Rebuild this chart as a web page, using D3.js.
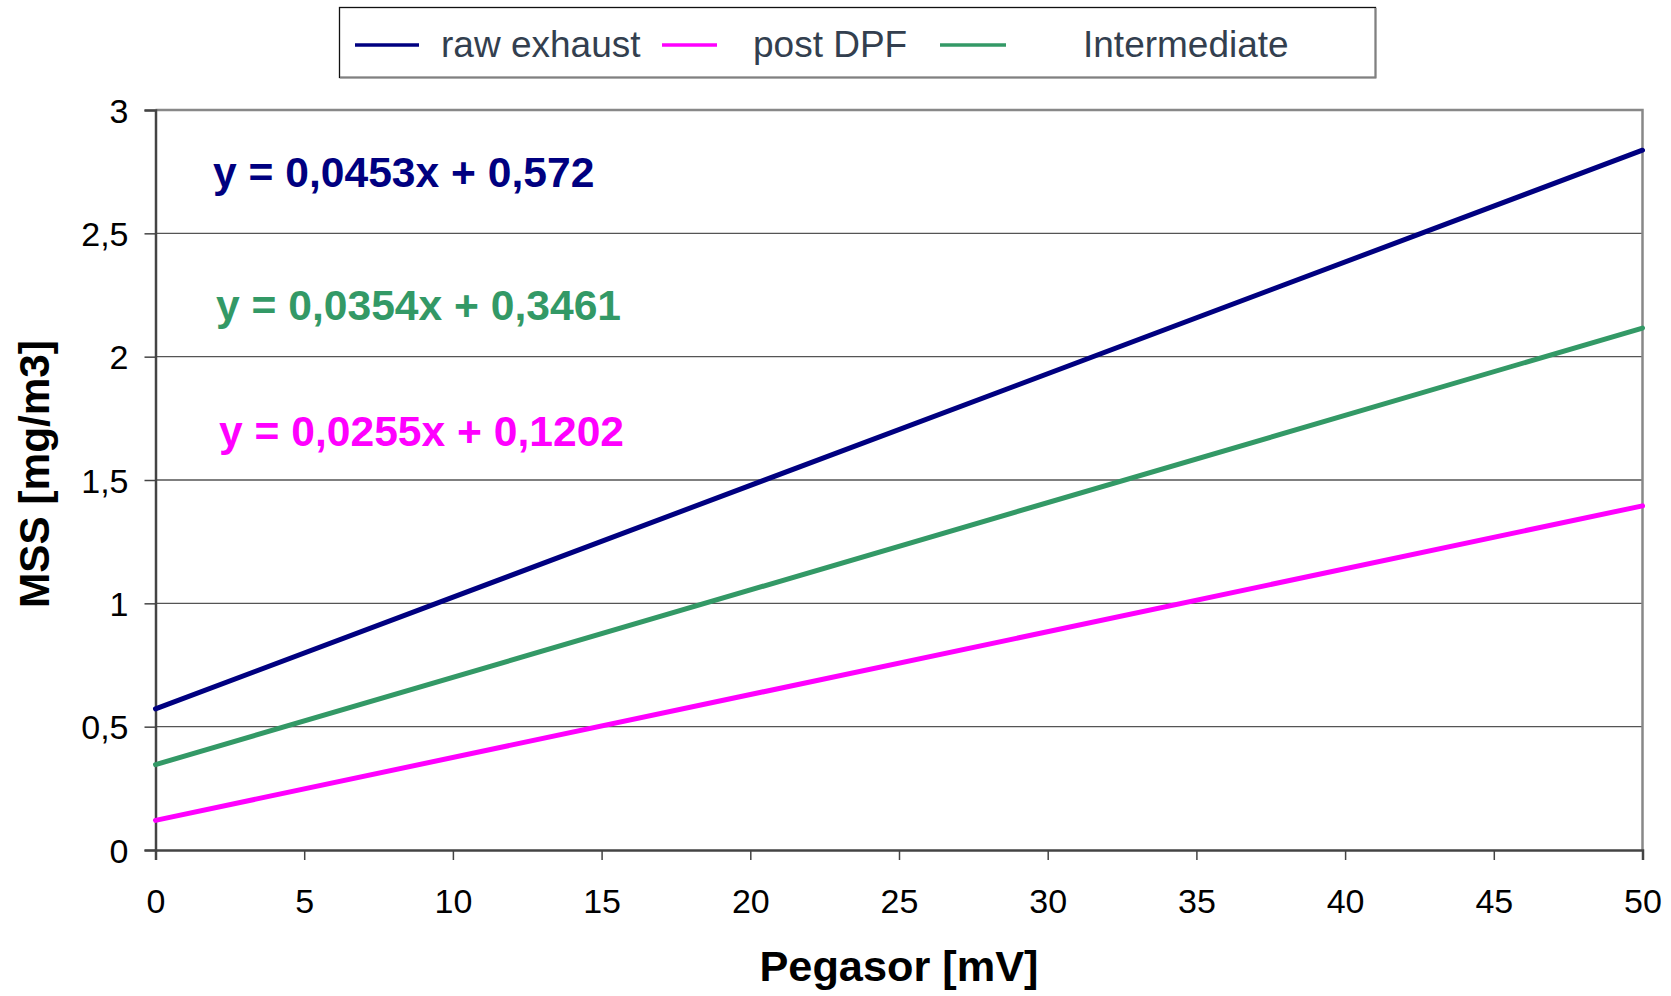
<!DOCTYPE html>
<html>
<head>
<meta charset="utf-8">
<script src="https://cdn.jsdelivr.net/npm/d3@7"></script>
<style>
	body { margin: 0; background: #fff; }
	svg { display: block; font-family: Arial, 'Liberation Sans', sans-serif; }
</style>
</head>
<body>
<div id="main-content"></div>
<script>
'use strict'

// line ends (x = 0 and x = 50)
const xValues = [0, 50]
const rawExhaust = [0.572, 2.837]
const postDPF = [0.1202, 1.3952]
const intermediate = [0.3461, 2.1161]

const seriesNames = ['raw exhaust', 'post DPF', 'Intermediate']
const equations = ['y = 0,0453x + 0,572', 'y = 0,0354x + 0,3461', 'y = 0,0255x + 0,1202']

const xTicks = [0, 5, 10, 15, 20, 25, 30, 35, 40, 45, 50]
const yTicks = [0, 0.5, 1, 1.5, 2, 2.5, 3]

const width = 1671,
		height = 996

const margin = { left: 155.5, right: 28.5, top: 110, bottom: 146 }

const navy = '#000080',
		magenta = '#ff00ff',
		green = '#339966'

const svg = d3.select('#main-content').append('svg')
	.attr('width', width)
	.attr('height', height)

const x = d3.scaleLinear().domain([0, 50]).range([margin.left, width - margin.right])
const y = d3.scaleLinear().domain([0, 3]).range([height - margin.bottom, margin.top])

const fmt = (d) => String(d).replace('.', ',')

// grid
svg.append('g')
	.selectAll('line')
	.data(yTicks.filter((d) => d > 0 && d < 3))
	.enter().append('line')
	.attr('x1', x(0))
	.attr('x2', x(50))
	.attr('y1', (d) => y(d))
	.attr('y2', (d) => y(d))
	.attr('stroke', '#555')
	.attr('stroke-width', 1.3)

// top and right frame
svg.append('path')
	.attr('d', `M${x(0)},${y(3)}H${x(50)}V${y(0)}`)
	.attr('fill', 'none')
	.attr('stroke', '#888')
	.attr('stroke-width', 2.5)

// axes
const xAxis = svg.append('g')
	.attr('transform', `translate(0,${y(0)})`)
	.call(d3.axisBottom(x).tickValues(xTicks).tickSize(10).tickPadding(53).tickFormat(fmt))

const yAxis = svg.append('g')
	.attr('transform', `translate(${x(0)},0)`)
	.call(d3.axisLeft(y).tickValues(yTicks).tickSize(11).tickPadding(16).tickFormat(fmt))

;[xAxis, yAxis].forEach((g) => {
	g.select('.domain').attr('stroke', '#444').attr('stroke-width', 2.5)
	g.selectAll('.tick line').attr('stroke', '#444').attr('stroke-width', 1.5)
	g.selectAll('.tick text')
		.attr('fill', '#000')
		.style('font-size', '34px')
})
xAxis.selectAll('.tick text').attr('dy', '0')
yAxis.selectAll('.tick text').attr('dy', '0.36em')

// trend lines
const line = d3.line()
	.x((d) => x(d[0]))
	.y((d) => y(d[1]))

const series = [
	{ name: seriesNames[0], values: rawExhaust, color: navy },
	{ name: seriesNames[1], values: postDPF, color: magenta },
	{ name: seriesNames[2], values: intermediate, color: green }
]

svg.append('g')
	.selectAll('path')
	.data(series)
	.enter().append('path')
	.attr('d', (d) => line(xValues.map((v, i) => [v, d.values[i]])))
	.attr('fill', 'none')
	.attr('stroke', (d) => d.color)
	.attr('stroke-width', 5)
	.attr('stroke-linecap', 'round')

// equation labels
const eqLabels = [
	{ text: equations[0], color: navy, x: 213, y: 187 },
	{ text: equations[1], color: green, x: 216, y: 320 },
	{ text: equations[2], color: magenta, x: 219, y: 446 }
]

svg.append('g')
	.selectAll('text')
	.data(eqLabels)
	.enter().append('text')
	.attr('x', (d) => d.x)
	.attr('y', (d) => d.y)
	.attr('fill', (d) => d.color)
	.style('font-size', '42.6px')
	.style('font-weight', 'bold')
	.text((d) => d.text)

// axis titles
svg.append('text')
	.attr('x', (x(0) + x(50)) / 2)
	.attr('y', 981)
	.attr('text-anchor', 'middle')
	.style('font-size', '43.3px')
	.style('font-weight', 'bold')
	.text('Pegasor [mV]')

svg.append('text')
	.attr('transform', 'translate(49,474) rotate(-90)')
	.attr('text-anchor', 'middle')
	.style('font-size', '42.3px')
	.style('font-weight', 'bold')
	.text('MSS [mg/m3]')

// legend
const legend = svg.append('g')

legend.append('rect')
	.attr('x', 339.5)
	.attr('y', 7.5)
	.attr('width', 1036)
	.attr('height', 70)
	.attr('fill', '#fff')
	.attr('stroke', '#111')
	.attr('stroke-width', 1.3)

legend.append('path')
	.attr('d', 'M340,77.5H1375.5V8')
	.attr('fill', 'none')
	.attr('stroke', '#808080')
	.attr('stroke-width', 2)

const legendItems = [
	{ name: seriesNames[0], color: navy, x1: 355, x2: 419, tx: 441 },
	{ name: seriesNames[1], color: magenta, x1: 662, x2: 717, tx: 753 },
	{ name: seriesNames[2], color: green, x1: 940, x2: 1006, tx: 1083 }
]

const item = legend.selectAll('.item')
	.data(legendItems)
	.enter().append('g')
	.attr('class', 'item')

item.append('line')
	.attr('x1', (d) => d.x1)
	.attr('x2', (d) => d.x2)
	.attr('y1', 45)
	.attr('y2', 45)
	.attr('stroke', (d) => d.color)
	.attr('stroke-width', 3.5)

item.append('text')
	.attr('x', (d) => d.tx)
	.attr('y', 57)
	.attr('fill', '#333f4f')
	.style('font-size', '37px')
	.text((d) => d.name)
</script>
</body>
</html>
